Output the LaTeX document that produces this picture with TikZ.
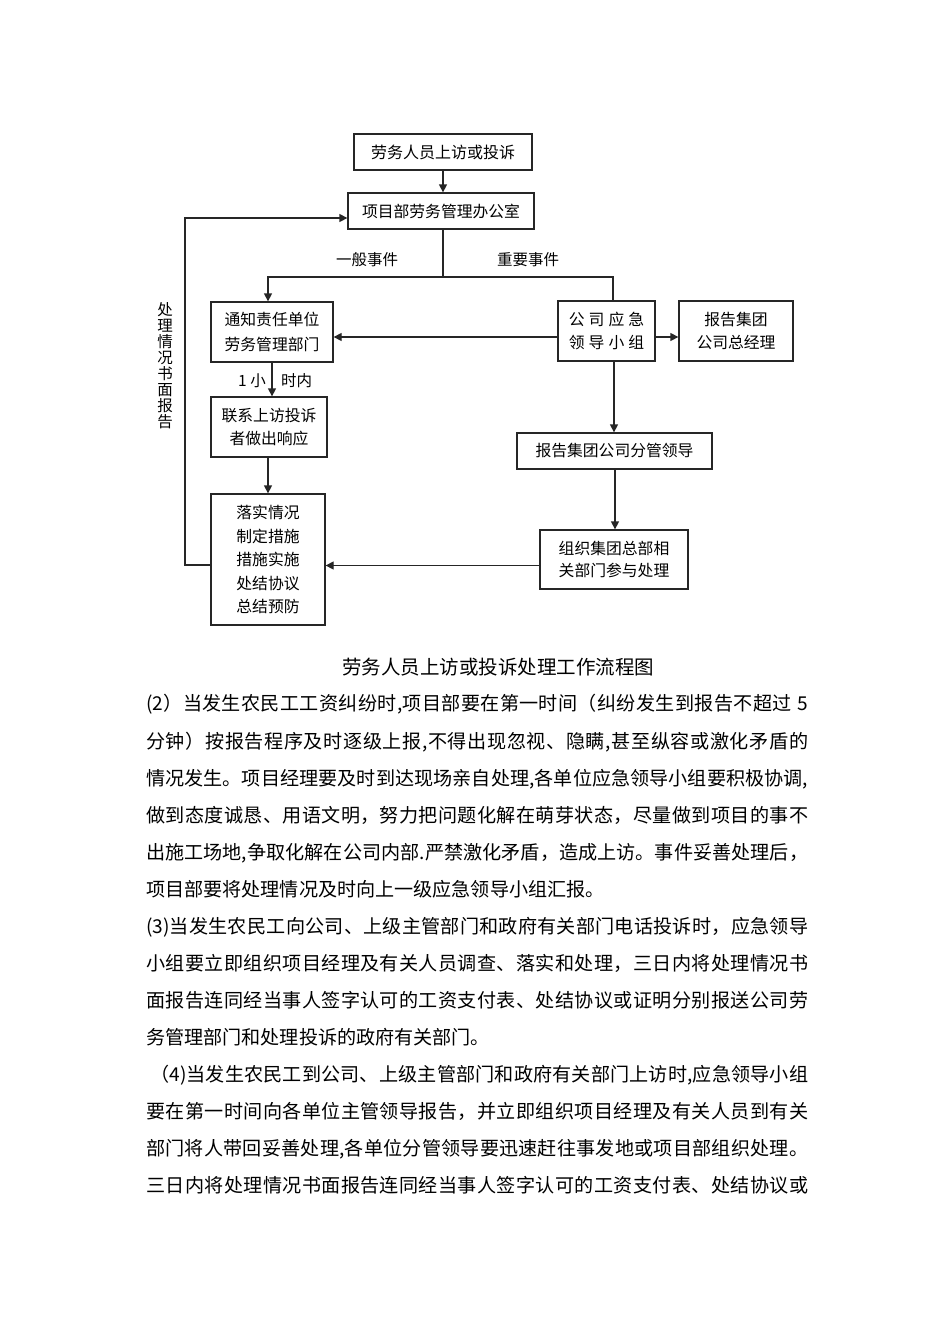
\documentclass[tikz,border=0pt]{standalone}
\usepackage{fontspec}
\setmainfont{Noto Sans CJK SC}
\usetikzlibrary{arrows.meta,calc}
\newcount\cjkcc
\cjkcc="4E00
\loop \XeTeXcharclass\cjkcc=1 \advance\cjkcc by 1 \ifnum\cjkcc<"A000 \repeat
\cjkcc="3000
\loop \XeTeXcharclass\cjkcc=1 \advance\cjkcc by 1 \ifnum\cjkcc<"3040 \repeat
\cjkcc="FF00
\loop \XeTeXcharclass\cjkcc=1 \advance\cjkcc by 1 \ifnum\cjkcc<"FF60 \repeat
\XeTeXinterchartokenstate=1
\newskip\cjkglue \cjkglue=0pt plus 2pt
\XeTeXinterchartoks 1 1={\hskip\cjkglue}
\XeTeXinterchartoks 0 1={\hskip\cjkglue}
\XeTeXinterchartoks 1 0={\hskip\cjkglue}
\begin{document}
\begin{tikzpicture}[x=1pt,y=-1pt]
\tikzset{
 box/.style={draw=black!85, line width=1.3pt, fill=white, inner sep=0pt, align=center, font=\fontsize{15.8}{23.5}\selectfont},
 arr/.style={draw=black!85, line width=1.3pt, -{Triangle[length=8pt,width=8pt]}},
 ln/.style={draw=black!85, line width=1.3pt},
 lbl/.style={font=\fontsize{15.5}{18}\selectfont, inner sep=0pt},
 body/.style={anchor=base west, inner sep=0pt, font=\fontsize{19.1}{20}\selectfont},
}
\useasboundingbox[fill=white] (0,0) rectangle (950,1344);

% boxes
\node[box, minimum width=178, minimum height=36, font=\fontsize{16}{20}\selectfont] (top) at (443,152) {劳务人员上访或投诉};
\node[box, minimum width=186, minimum height=36] (office) at (441,211) {项目部劳务管理办公室};
\node[box, minimum width=122, minimum height=60, font=\fontsize{15.8}{25}\selectfont] (notify) at (272,332) {通知责任单位\\劳务管理部门};
\node[box, minimum width=97, minimum height=60] (emerg) at (606.5,331) {公\hspace{4pt}司\hspace{4pt}应\hspace{4pt}急\\领\hspace{4pt}导\hspace{4pt}小\hspace{4pt}组};
\node[box, minimum width=114, minimum height=60] (gm) at (736,331) {报告集团\\公司总经理};
\node[box, minimum width=195, minimum height=36] (fenguan) at (614.5,451) {报告集团公司分管领导};
\node[box, minimum width=148, minimum height=59, font=\fontsize{15.8}{22}\selectfont] (zuzhi) at (614,559.5) {组织集团总部相\\关部门参与处理};
\node[box, minimum width=116, minimum height=60] (contact) at (269,427) {联系上访投诉\\者做出响应};
\node[box, minimum width=114, minimum height=131] (luoshi) at (268,559.5) {落实情况\\制定措施\\措施实施\\处结协议\\总结预防};

% labels
\node[lbl] (lg) at (367,260) {一般事件};
\node[lbl] (lz) at (528,260) {重要事件};
\node[lbl, anchor=east] (l1) at (266,381) {1 小};
\node[lbl, anchor=west] (l2) at (281,381) {时内};
\node[lbl, align=center, font=\fontsize{15.5}{16}\selectfont] (vl) at (165,366) {处\\理\\情\\况\\书\\面\\报\\告};

% connectors
\coordinate (br) at (443,277);
\coordinate (bl) at (268,277);
\coordinate (brr) at (613,277);
\coordinate (fb) at (185,565);
\draw[arr] (top.south) -- (top.south |- office.north);
\draw[ln] (br |- office.south) -- (br);
\draw[arr] (br) -- (bl) -- (bl |- notify.north);
\draw[ln] (br) -- (brr) -- (brr |- emerg.north);
\draw[arr] ([yshift=-6pt]emerg.west) -- ([yshift=-6pt]emerg.west -| notify.east);
\draw[arr] ([yshift=-6pt]emerg.east) -- ([yshift=-6pt]emerg.east -| gm.west);
\draw[arr] ([xshift=7.5pt]emerg.south) -- ([xshift=7.5pt]emerg.south |- fenguan.north);
\draw[arr] ([xshift=0.5pt]fenguan.south) -- ([xshift=0.5pt]fenguan.south |- zuzhi.north);
\draw[arr] ([yshift=-6pt]zuzhi.west) -- ([yshift=-6pt]zuzhi.west -| luoshi.east);
\draw[arr] (notify.south) -- (notify.south |- contact.north);
\draw[arr] ([xshift=-1pt]contact.south) -- ([xshift=-1pt]contact.south |- luoshi.north);
\draw[arr] (fb -| luoshi.west) -- (fb) -- (fb |- 0,218) -- ([yshift=-7pt]office.west);

% caption and body text
\node[inner sep=0pt, font=\fontsize{19.5}{20}\selectfont] (cap) at (498,667) {劳务人员上访或投诉处理工作流程图};
\node[body] (t1) at (146,710) {\hbox to 662pt{(2）当发生农民工工资纠纷时,项目部要在第一时间（纠纷发生到报告不超过\hskip 6pt 5}};
\node[body] (t2) at (146,748) {\hbox to 662pt{分钟）按报告程序及时逐级上报,不得出现忽视、隐瞒,甚至纵容或激化矛盾的}};
\node[body] (t3) at (146,785) {\hbox to 662pt{情况发生。项目经理要及时到达现场亲自处理,各单位应急领导小组要积极协调,}};
\node[body] (t4) at (146,822) {\hbox to 662pt{做到态度诚恳、用语文明，努力把问题化解在萌芽状态，尽量做到项目的事不}};
\node[body] (t5) at (146,859) {\hbox to 662pt{出施工场地,争取化解在公司内部.严禁激化矛盾，造成上访。事件妥善处理后，}};
\node[body] (t6) at (146,896) {项目部要将处理情况及时向上一级应急领导小组汇报。};
\node[body] (t7) at (146,933) {\hbox to 662pt{(3)当发生农民工向公司、上级主管部门和政府有关部门电话投诉时，应急领导}};
\node[body] (t8) at (146,970) {\hbox to 662pt{小组要立即组织项目经理及有关人员调查、落实和处理，三日内将处理情况书}};
\node[body] (t9) at (146,1007) {\hbox to 662pt{面报告连同经当事人签字认可的工资支付表、处结协议或证明分别报送公司劳}};
\node[body] (t10) at (146,1044) {务管理部门和处理投诉的政府有关部门。};
\node[body] (t11) at (150,1081) {\hbox to 658pt{（4)当发生农民工到公司、上级主管部门和政府有关部门上访时,应急领导小组}};
\node[body] (t12) at (146,1118) {\hbox to 662pt{要在第一时间向各单位主管领导报告，并立即组织项目经理及有关人员到有关}};
\node[body] (t13) at (146,1155) {\hbox to 662pt{部门将人带回妥善处理,各单位分管领导要迅速赶往事发地或项目部组织处理。}};
\node[body] (t14) at (146,1192) {\hbox to 662pt{三日内将处理情况书面报告连同经当事人签字认可的工资支付表、处结协议或}};
\end{tikzpicture}
\end{document}
